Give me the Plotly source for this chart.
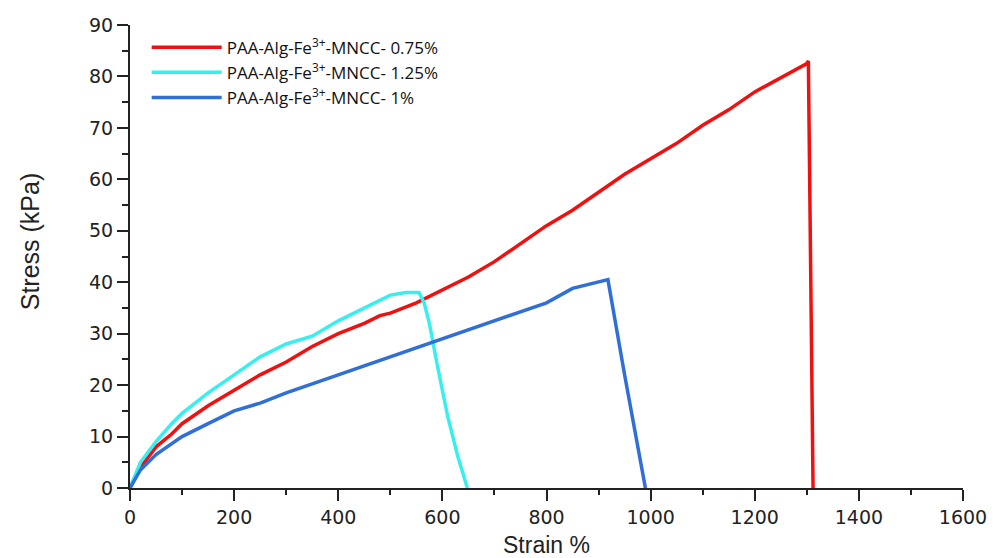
import plotly.graph_objects as go

# Data
red_x = [0, 20, 50, 80, 100, 150, 200, 250, 300, 350, 400, 450, 480, 500, 550, 600, 650, 700, 750, 800, 850, 900, 950, 1000, 1050, 1100, 1150, 1200, 1250, 1280, 1300, 1303, 1308, 1312]
red_y = [0, 4, 8, 10.5, 12.5, 16, 19, 22, 24.5, 27.5, 30, 32, 33.5, 34, 36, 38.5, 41, 44, 47.5, 51, 54, 57.5, 61, 64, 67, 70.5, 73.5, 77, 79.8, 81.5, 82.5, 83, 40, 0]

cyan_x = [0, 20, 50, 80, 100, 150, 200, 250, 300, 350, 400, 450, 500, 530, 555, 565, 575, 590, 610, 630, 648]
cyan_y = [0, 5, 9, 12.5, 14.5, 18.5, 22, 25.5, 28, 29.5, 32.5, 35, 37.5, 38, 38, 36, 32, 24, 14, 6, 0]

blue_x = [0, 20, 50, 80, 100, 150, 200, 250, 300, 400, 500, 600, 700, 800, 850, 900, 918, 950, 990]
blue_y = [0, 3.5, 6.5, 8.5, 10, 12.5, 15, 16.5, 18.5, 22, 25.5, 29, 32.5, 36, 38.8, 40, 40.5, 22, 0]

names = ["PAA-Alg-Fe<sup>3+</sup>-MNCC- 0.75%",
         "PAA-Alg-Fe<sup>3+</sup>-MNCC- 1.25%",
         "PAA-Alg-Fe<sup>3+</sup>-MNCC- 1%"]
colors = ["#f01010", "#38eeee", "#2f6fd6"]

x_ticks = list(range(0, 1601, 200))
y_ticks = list(range(0, 91, 10))

fig = go.Figure()
for i, (xs, ys) in enumerate([(red_x, red_y), (cyan_x, cyan_y), (blue_x, blue_y)]):
    fig.add_trace(go.Scatter(x=xs, y=ys, mode="lines", name=names[i],
                             line=dict(color=colors[i], width=3.5),
                             legendgroup=f"g{i}"))

axis_common = dict(showgrid=False, zeroline=False, showline=True, linecolor="#222",
                   linewidth=2, ticks="outside", ticklen=11, tickwidth=2,
                   tickcolor="#222", automargin=False,
                   tickfont=dict(family="DejaVu Sans", size=19, color="#222"))

fig.update_layout(
    width=997, height=558,
    margin=dict(l=130, r=34, t=25, b=70),
    paper_bgcolor="white", plot_bgcolor="white",
    xaxis=dict(range=[0, 1600], tickvals=x_ticks,
               minor=dict(dtick=100, ticks="outside", ticklen=5, tickwidth=2, tickcolor="#222"),
               title=dict(text="Strain %", font=dict(family="Liberation Sans, Arial", size=23, color="#222"), standoff=12),
               **axis_common),
    yaxis=dict(range=[0, 90], tickvals=y_ticks,
               minor=dict(dtick=5, ticks="outside", ticklen=6, tickwidth=2, tickcolor="#222"),
               **axis_common),
    annotations=[dict(text="Stress (kPa)", textangle=-90, xref="paper", yref="paper",
                      x=-0.12, y=0.533, xanchor="center", yanchor="middle", showarrow=False,
                      font=dict(family="Liberation Sans, Arial", size=25, color="#222"))],
    legend=dict(x=0.02, y=0.99, xanchor="left", yanchor="top",
                font=dict(family="Open Sans, Noto Sans", size=17, color="#111"),
                bgcolor="rgba(0,0,0,0)", itemwidth=70, traceorder="grouped",
                tracegroupgap=0),
    showlegend=True,
)

fig.write_html("out.html")
